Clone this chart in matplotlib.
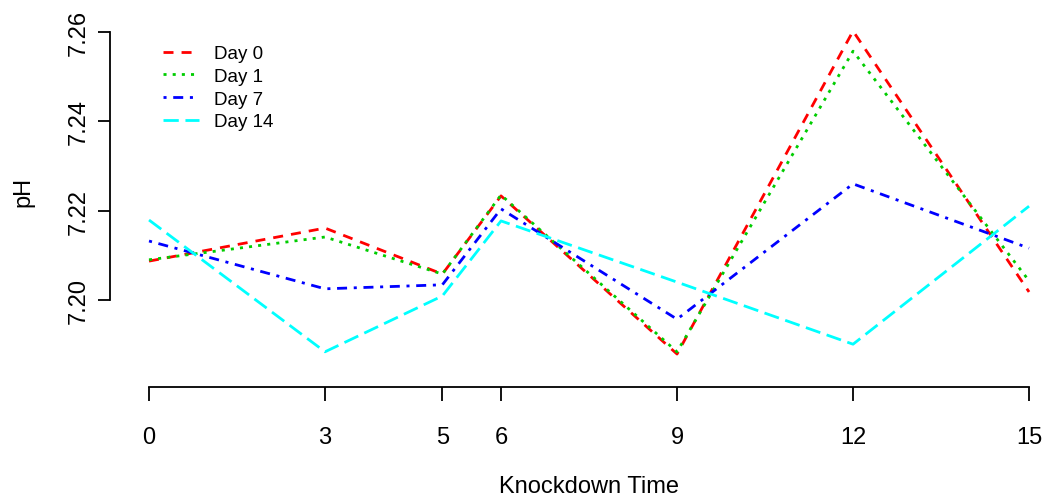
import matplotlib.pyplot as plt

plt.rcParams["font.family"] = ["Liberation Sans", "DejaVu Sans"]

# Knockdown time points and pH for each day
times = [0, 3, 5, 6, 9, 12, 15]
day0 = [7.2087, 7.2161, 7.2058, 7.2233, 7.1879, 7.2602, 7.2018]
day1 = [7.2090, 7.2141, 7.2058, 7.2235, 7.1884, 7.2557, 7.2043]
day7 = [7.2132, 7.2025, 7.2034, 7.2204, 7.1957, 7.2260, 7.2116]
day14 = [7.2179, 7.1884, 7.2009, 7.2177, 7.2040, 7.1901, 7.2210]

labels = ["Day 0", "Day 1", "Day 7", "Day 14"]
colors = ["#ff0000", "#00cd00", "#0000ff", "#00ffff"]
dashes = [(3.6, 2.9), (1.1, 2.2), (1.1, 2.4, 3.6, 2.4), (5.5, 2.4)]

fig = plt.figure(figsize=(10.44, 5.02), dpi=100)
ax = fig.add_axes([110 / 1044, 114 / 502, 934 / 1044, 388 / 502])

for ys, lab, col, d in zip([day0, day1, day7, day14], labels, colors, dashes):
    ax.plot(times, ys, color=col, lw=2.0, dashes=d, label=lab)

ax.set_xlim(-0.665, 15.255)
ax.set_ylim(7.18052, 7.26738)

ax.spines["top"].set_visible(False)
ax.spines["right"].set_visible(False)
ax.spines["left"].set_bounds(7.20, 7.26)
ax.spines["bottom"].set_bounds(0, 15)
ax.spines["left"].set_linewidth(1.3)
ax.spines["bottom"].set_linewidth(1.3)

ax.set_xticks(times)
ax.set_xticklabels([str(t) for t in times])
ax.set_yticks([7.20, 7.22, 7.24, 7.26])
ax.set_yticklabels(["7.20", "7.22", "7.24", "7.26"])
ax.tick_params(axis="x", length=10, width=1.3, pad=18, labelsize=17)
ax.tick_params(axis="y", length=8.5, width=1.3, pad=6, labelsize=17, labelrotation=90)
for t in ax.get_yticklabels():
    t.set_va("center")

ax.set_xlabel("Knockdown Time", fontsize=17)
ax.set_ylabel("pH", fontsize=17)
ax.xaxis.set_label_coords(0.5128, -0.228)
ax.yaxis.set_label_coords(-0.0814, 0.505)

ax.legend(loc="upper left", bbox_to_anchor=(163 / 1044, 1 - 46 / 502),
          bbox_transform=fig.transFigure, frameon=False, fontsize=13.5,
          handlelength=1.9, handletextpad=0.8, labelspacing=0.3,
          borderpad=0, borderaxespad=0)

fig.savefig("out.png", dpi=100)
